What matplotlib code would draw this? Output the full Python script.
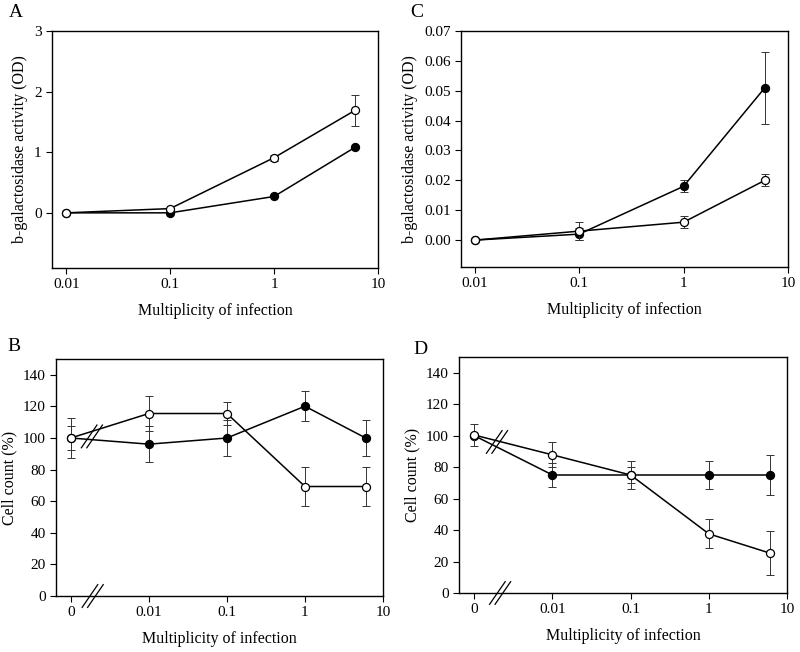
import numpy as np
import matplotlib
matplotlib.use("Agg")
import matplotlib.pyplot as plt

plt.rcParams['font.family'] = ['Liberation Serif', 'DejaVu Serif']

# --- panel A: b-galactosidase, log MOI ---
moi_a = [0.01, 0.1, 1, 6]
a_open = [0.0, 0.07, 0.91, 1.69]
a_open_err = [0.0, 0.0, 0.05, 0.25]
a_filled = [0.0, 0.0, 0.27, 1.08]
a_filled_err = [0.0, 0.0, 0.0, 0.0]

# --- panel C ---
moi_c = [0.01, 0.1, 1, 6]
c_open = [0.0, 0.003, 0.006, 0.020]
c_open_err = [0.0, 0.003, 0.002, 0.002]
c_filled = [0.0, 0.002, 0.018, 0.051]
c_filled_err = [0.0, 0.002, 0.002, 0.012]

# --- panels B and D: cell count, MOI 0 shown before the axis break ---
moi_bd = [0, 0.01, 0.1, 1, 6]
b_open = [100, 115.5, 115.5, 69.3, 69.3]
b_open_err = [12.5, 10.8, 7.2, 12.3, 12.3]
b_filled = [100, 96.1, 100, 120.1, 100]
b_filled_err = [7.5, 11.5, 11.2, 9.4, 11.2]

d_open = [100.4, 87.8, 75, 37.6, 25.4]
d_open_err = [7.0, 8.0, 9.2, 9.3, 13.8]
d_filled = [100, 75, 75, 75, 75]
d_filled_err = [0, 7.5, 5.0, 9.2, 13.0]

ticks_log = [0.01, 0.1, 1, 10]
tick_labels_log = ['0.01', '0.1', '1', '10']
tick_labels_bd = ['0', '0.01', '0.1', '1', '10']

fig = plt.figure(figsize=(8, 6.52), dpi=100)

W, H = 800.0, 652.0


def box(l, r, t, b):
    return [l / W, 1 - b / H, (r - l) / W, (b - t) / H]


def style(ax):
    for s in ax.spines.values():
        s.set_linewidth(1.0)
    ax.tick_params(direction='out', length=4, width=0.8, labelsize=11,
                   top=False, right=False)
    ax.set_xlabel('Multiplicity of infection', fontsize=11.5, labelpad=8)


def series(ax, x, y, e, filled, z):
    ax.errorbar(x, y, yerr=e, fmt='none', ecolor='#333333', elinewidth=0.7,
                capsize=3, capthick=0.7, zorder=z)
    ax.plot(x, y, '-o', color='black', lw=1.1, ms=5.8,
            mfc='black' if filled else 'white', mec='black', mew=0.9,
            zorder=z + 1, clip_on=False)


def pos(x):
    return [0.0 if v == 0 else np.log10(v) + 3 for v in x]


def breaks(ax, xb, y, ytop):
    # the little "//" marks
    for off in (-0.035, 0.035):
        ax.plot([xb + off - 0.1, xb + off + 0.1], [y - 0.048 * ytop, y + 0.048 * ytop],
                color='black', lw=0.9, zorder=6, clip_on=False)


# A
axA = fig.add_axes(box(52, 378, 31, 268))
series(axA, moi_a, a_filled, a_filled_err, True, 2)
series(axA, moi_a, a_open, a_open_err, False, 4)
axA.set_xscale('log')
axA.set_xlim(0.0073, 10)
axA.set_ylim(-0.91, 3)
axA.set_xticks(ticks_log)
axA.set_xticklabels(tick_labels_log)
axA.minorticks_off()
axA.set_yticks([0, 1, 2, 3])
axA.set_ylabel('b-galactosidase activity (OD)', fontsize=11.5)
style(axA)

# C
axC = fig.add_axes(box(461, 788, 31, 267))
series(axC, moi_c, c_filled, c_filled_err, True, 2)
series(axC, moi_c, c_open, c_open_err, False, 4)
axC.set_xscale('log')
axC.set_xlim(0.0074, 10)
axC.set_ylim(-0.009, 0.07)
axC.set_xticks(ticks_log)
axC.set_xticklabels(tick_labels_log)
axC.minorticks_off()
axC.set_yticks(np.arange(0, 0.071, 0.01))
axC.set_yticklabels(['%.2f' % v for v in np.arange(0, 0.071, 0.01)])
axC.set_ylabel('b-galactosidase activity (OD)', fontsize=11.5)
style(axC)

# B
axB = fig.add_axes(box(56, 383, 359, 596))
series(axB, pos(moi_bd), b_filled, b_filled_err, True, 2)
series(axB, pos(moi_bd), b_open, b_open_err, False, 4)
axB.set_xlim(-0.19, 4)
axB.set_ylim(0, 150)
axB.set_xticks(range(5))
axB.set_xticklabels(tick_labels_bd)
axB.set_yticks(range(0, 141, 20))
axB.set_ylabel('Cell count (%)', fontsize=11.5)
style(axB)
breaks(axB, 0.27, 101, 150)
breaks(axB, 0.28, 0, 150)

# D
axD = fig.add_axes(box(459, 787, 357, 593))
series(axD, pos(moi_bd), d_filled, d_filled_err, True, 2)
series(axD, pos(moi_bd), d_open, d_open_err, False, 4)
axD.set_xlim(-0.196, 4)
axD.set_ylim(0, 150)
axD.set_xticks(range(5))
axD.set_xticklabels(tick_labels_bd)
axD.set_yticks(range(0, 141, 20))
axD.set_ylabel('Cell count (%)', fontsize=11.5)
style(axD)
breaks(axD, 0.29, 96, 150)
breaks(axD, 0.33, 0, 150)

# panel letters
for lab, x, y in [('A', 9, 4), ('C', 410, 4), ('B', 7, 338), ('D', 413, 341)]:
    fig.text(x / W, 1 - y / H, lab, fontsize=14, va='top', ha='left')

fig.savefig('out.png', dpi=100)
